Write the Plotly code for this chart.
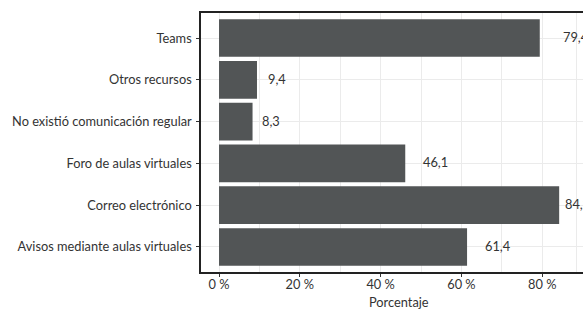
import plotly.graph_objects as go

categories = ["Avisos mediante aulas virtuales", "Correo electrónico", "Foro de aulas virtuales",
              "No existió comunicación regular", "Otros recursos", "Teams"]
values = [61.4, 84.2, 46.1, 8.3, 9.4, 79.4]
label_shift_px = [16, 4, 16, 7, 9, 21]
x_ticks = [0, 20, 40, 60, 80]
x_tick_labels = ["0 %", "20 %", "40 %", "60 %", "80 %"]

FONT = "Lato"
FS = 12.8
TXT = "#333333"

fig = go.Figure()
fig.add_trace(go.Bar(
    x=values, y=categories, orientation="h",
    marker=dict(color="#525556", line=dict(width=0)),
    width=0.9, hoverinfo="skip",
))

for v, c, s in zip(values, categories, label_shift_px):
    fig.add_annotation(x=v, y=c, xref="x", yref="y", text=f"{v:.1f}".replace(".", ","),
                       showarrow=False, xanchor="left", yanchor="middle", xshift=s, yshift=1,
                       font=dict(family=FONT, size=FS, color=TXT))

fig.add_annotation(x=0.518, y=-0.115, xref="paper", yref="paper", text="Porcentaje",
                   showarrow=False, xanchor="center", yanchor="middle",
                   font=dict(family=FONT, size=FS, color=TXT))

fig.update_layout(
    width=583, height=309,
    margin=dict(l=201, r=0, t=12.5, b=36.5),
    paper_bgcolor="white", plot_bgcolor="white",
    showlegend=False,
    font=dict(family=FONT, size=FS, color=TXT),
    xaxis=dict(
        range=[-4.46, 90.1],
        tickvals=x_ticks, ticktext=x_tick_labels,
        showgrid=True, gridcolor="#ebebeb", gridwidth=1,
        minor=dict(tickvals=[10, 30, 50, 70, 88.5], showgrid=True, gridcolor="#ebebeb", gridwidth=1, ticklen=0),
        zeroline=False,
        showline=True, linecolor="#222222", linewidth=1.5, mirror=True,
        ticks="outside", ticklen=3, tickcolor="#333333", tickwidth=1,
        tickfont=dict(family=FONT, size=FS, color=TXT),
        ticklabelstandoff=-3,
        fixedrange=True,
    ),
    yaxis=dict(
        categoryorder="array", categoryarray=categories,
        range=[-0.6, 5.6],
        showgrid=True, gridcolor="#ebebeb", gridwidth=1,
        zeroline=False,
        showline=True, linecolor="#222222", linewidth=1.5,
        ticks="outside", ticklen=3, tickcolor="#333333", tickwidth=1,
        tickfont=dict(family=FONT, size=FS, color=TXT),
        ticklabelstandoff=2,
        fixedrange=True,
    ),
)

fig.write_html("out.html", config={"displayModeBar": False},
               post_script="document.body.style.margin='0';document.body.style.overflow='hidden';")
